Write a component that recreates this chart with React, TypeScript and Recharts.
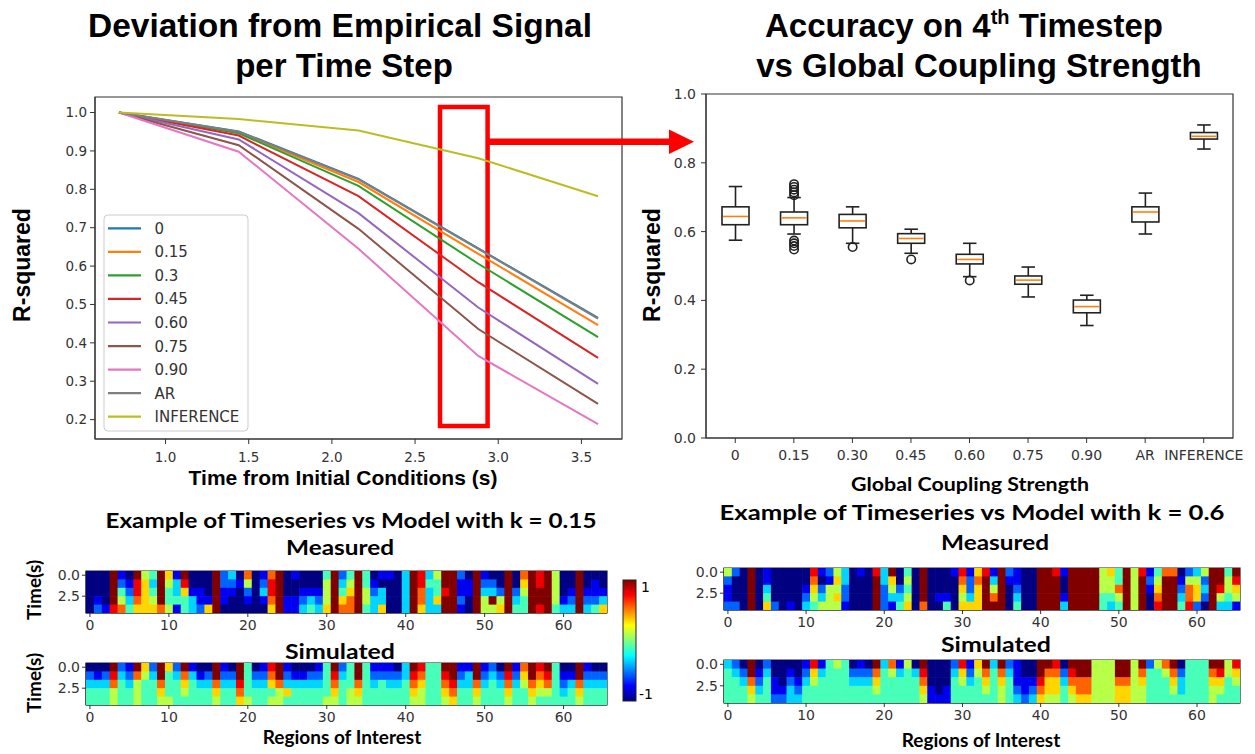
import React from "react";
import { LineChart, Line, XAxis, YAxis, ReferenceArea, BarChart, Bar, ScatterChart, Scatter } from "recharts";

// R-squared vs time from initial conditions, one array per coupling value
const TIME_STEPS = [0.72, 1.44, 2.16, 2.88, 3.6];
const LINE_LABELS = ["0", "0.15", "0.3", "0.45", "0.60", "0.75", "0.90", "AR", "INFERENCE"];
const LINE_COLORS = ["#1f77b4", "#ff7f0e", "#2ca02c", "#d62728", "#9467bd", "#8c564b", "#e377c2", "#7f7f7f", "#bcbd22"];
const R2_K0 = [1.0, 0.951, 0.827, 0.646, 0.465];
const R2_K015 = [1.0, 0.948, 0.819, 0.632, 0.446];
const R2_K030 = [1.0, 0.946, 0.809, 0.606, 0.415];
const R2_K045 = [1.0, 0.94, 0.782, 0.558, 0.361];
const R2_K060 = [1.0, 0.93, 0.738, 0.492, 0.293];
const R2_K075 = [1.0, 0.915, 0.697, 0.436, 0.241];
const R2_K090 = [1.0, 0.898, 0.645, 0.366, 0.188];
const R2_AR = [1.0, 0.95, 0.826, 0.645, 0.463];
const R2_INFERENCE = [1.0, 0.983, 0.953, 0.881, 0.782];
const LINE_VALUES = [R2_K0, R2_K015, R2_K030, R2_K045, R2_K060, R2_K075, R2_K090, R2_AR, R2_INFERENCE];
const LINE_X_TICKS = [1.0, 1.5, 2.0, 2.5, 3.0, 3.5];
const LINE_Y_TICKS = [0.2, 0.3, 0.4, 0.5, 0.6, 0.7, 0.8, 0.9, 1.0];

// accuracy on 4th timestep, box plot stats
const BOX_LABELS = ["0", "0.15", "0.30", "0.45", "0.60", "0.75", "0.90", "AR", "INFERENCE"];
const BOX_LOW = [0.575, 0.593, 0.566, 0.537, 0.469, 0.41, 0.327, 0.593, 0.84];
const BOX_Q1 = [0.62, 0.62, 0.611, 0.566, 0.506, 0.447, 0.364, 0.628, 0.869];
const BOX_MEDIAN = [0.644, 0.64, 0.631, 0.58, 0.519, 0.459, 0.382, 0.657, 0.877];
const BOX_Q3 = [0.672, 0.657, 0.65, 0.594, 0.534, 0.471, 0.401, 0.672, 0.888];
const BOX_HIGH = [0.731, 0.699, 0.672, 0.607, 0.566, 0.497, 0.415, 0.712, 0.91];
const BOX_OUTLIERS = [
  [],
  [0.738, 0.73, 0.722, 0.714, 0.706, 0.574, 0.566, 0.558, 0.548],
  [0.555],
  [0.519],
  [0.458],
  [],
  [],
  [],
  [],
];
const BOX_Y_TICKS = [0, 0.2, 0.4, 0.6, 0.8, 1.0];

// heatmaps: one string per time row, one digit per region (0 = -1 ... 9 = +1)
const MEASURED_K015 = [
  "000910954961900092307017901000492494011039835992091009079895009000",
  "000921863953800092215028900000593594100039844991192209069895009010",
  "000942864943611091102038900111594695230039734891193329259995019111",
  "010953765944431191001017911232596795330039736992095959349995129223",
  "021874666751432690000006911343697794360039633991095569449894339346",
];
const SIMULATED_K015 = [
  "000921962962910091094018910001492494111039844991191209179894009100",
  "212832753943731292294227921122483494222238744892392328269784119222",
  "333743544744643373384336733333474474343347644783373437357674237333",
  "444544544644544464474444564444464564444446544674464446446554346444",
  "444544544554444454465445544444554554444445544564454445445444445444",
];
const MEASURED_K06 = [
  "520901000008125301083904090001816819210099819999564958147702359949",
  "200901000007016300093605090000727939110099909999554959259915529958",
  "100903000016255200092524090000626959020099909999557959169927639856",
  "100904000025356200092335090110536979030099919999445959079937629545",
  "220906201034555100092146070040666999040099939999434959089948209331",
];
const SIMULATED_K06 = [
  "320902000018145401093715090002816939210099809995559959257904449958",
  "432913001026344422274534380003625747310097728995559957445724447856",
  "443724102135444433364444470004534646411186637775557756444634446645",
  "444634113244444444454444461014444545421276646775556655444534445544",
  "444544223344444444444444451114444445432365545665556655444444445444",
];
const HEAT_X_TICKS = [0, 10, 20, 30, 40, 50, 60];
const HEAT_Y_TICKS = [0, 2.5];
const COLORBAR_STOPS = [0, 0.125, 0.25, 0.375, 0.5, 0.625, 0.75, 0.875, 1];

const TITLE_FONT = "'Liberation Sans', Arial, sans-serif";
const LABEL_FONT = "Lato, 'Open Sans', sans-serif";
const TICK_FONT = "'DejaVu Sans', sans-serif";
const AXIS_COLOR = "#333";
const tickStyle = { fontSize: 14, fill: "#333", fontFamily: TICK_FONT };

function jet(t: number) {
  const c = (v: number) => Math.round(255 * Math.max(0, Math.min(1, v)));
  return `rgb(${c(1.5 - Math.abs(4 * t - 3))},${c(1.5 - Math.abs(4 * t - 2))},${c(1.5 - Math.abs(4 * t - 1))})`;
}

function DeviationChart() {
  const data = TIME_STEPS.map((t, i) => {
    const row: Record<string, number> = { t };
    LINE_LABELS.forEach((name, s) => (row[name] = LINE_VALUES[s][i]));
    return row;
  });
  return (
    <LineChart width={640} height={500} data={data} margin={{ top: 97, right: 18, bottom: 31, left: 50 }}>
      <XAxis
        dataKey="t"
        type="number"
        domain={[0.576, 3.744]}
        ticks={LINE_X_TICKS}
        tickFormatter={(v) => Number(v).toFixed(1)}
        allowDataOverflow
        interval={0}
        height={30}
        tick={{ ...tickStyle, fontSize: 13.5 }}
        tickSize={5}
        tickMargin={8}
        stroke={AXIS_COLOR}
      />
      <YAxis
        type="number"
        domain={[0.1495, 1.0405]}
        ticks={LINE_Y_TICKS}
        tickFormatter={(v) => Number(v).toFixed(1)}
        allowDataOverflow
        interval={0}
        width={45}
        tick={{ ...tickStyle, fontSize: 13.5 }}
        tickSize={5}
        tickMargin={3}
        stroke={AXIS_COLOR}
      />
      <ReferenceArea y1={0.1495} y2={1.0405} fill="none" stroke={AXIS_COLOR} strokeWidth={1.2} />
      {LINE_LABELS.map((name, s) => (
        <Line key={name} dataKey={name} stroke={LINE_COLORS[s]} strokeWidth={2} dot={false} isAnimationActive={false} />
      ))}
      {/* highlighted 4th timestep */}
      <ReferenceArea x1={2.65} x2={2.936} y1={0.1834} y2={1.0144} fill="none" stroke="#ff0000" strokeWidth={4.5} />
    </LineChart>
  );
}

function BoxShape(props: any) {
  const { x, y, width, height, payload } = props;
  if (!payload) return null;
  const top = Math.min(y, y + height);
  const h = Math.abs(height);
  const py = (v: number) => top + (h * (payload.high - v)) / (payload.high - payload.low);
  const cx = x + width / 2;
  const cap = width / 4;
  const st = { stroke: "#222", strokeWidth: 1.6 };
  return (
    <g>
      <line x1={cx} x2={cx} y1={py(payload.high)} y2={py(payload.q3)} {...st} />
      <line x1={cx} x2={cx} y1={py(payload.q1)} y2={py(payload.low)} {...st} />
      <line x1={cx - cap} x2={cx + cap} y1={py(payload.high)} y2={py(payload.high)} {...st} />
      <line x1={cx - cap} x2={cx + cap} y1={py(payload.low)} y2={py(payload.low)} {...st} />
      <rect x={x} y={py(payload.q3)} width={width} height={py(payload.q1) - py(payload.q3)} fill="#fff" {...st} />
      <line x1={x + 1} x2={x + width - 1} y1={py(payload.median)} y2={py(payload.median)} stroke="#ff7f0e" strokeWidth={1.6} />
      {payload.outliers.map((v: number, i: number) => (
        <circle key={i} cx={cx} cy={py(v)} r={4.2} fill="none" {...st} />
      ))}
    </g>
  );
}

function AccuracyChart() {
  const data = BOX_LABELS.map((name, i) => ({
    name,
    range: [BOX_LOW[i], BOX_HIGH[i]],
    low: BOX_LOW[i],
    q1: BOX_Q1[i],
    median: BOX_MEDIAN[i],
    q3: BOX_Q3[i],
    high: BOX_HIGH[i],
    outliers: BOX_OUTLIERS[i],
  }));
  return (
    <BarChart width={615} height={440} data={data} margin={{ top: 24, right: 22, bottom: 32, left: 16 }}>
      <XAxis dataKey="name" interval={0} height={40} tick={tickStyle} tickSize={5} tickMargin={7} stroke={AXIS_COLOR} />
      <YAxis
        type="number"
        domain={[0, 1]}
        ticks={BOX_Y_TICKS}
        tickFormatter={(v) => Number(v).toFixed(1)}
        interval={0}
        width={50}
        tick={tickStyle}
        tickSize={5}
        tickMargin={5}
        stroke={AXIS_COLOR}
      />
      <ReferenceArea y1={0} y2={1} fill="none" stroke={AXIS_COLOR} strokeWidth={1.2} />
      <Bar dataKey="range" barSize={27} shape={BoxShape} isAnimationActive={false} />
    </BarChart>
  );
}

function Heatmap({ rows, x0, x1, y0, y1 }: { rows: string[]; x0: number; x1: number; y0: number; y1: number }) {
  const yAxisW = 40;
  const xAxisH = 25;
  const left = x0 - yAxisW - 16;
  const top = y0 - 11;
  const width = x1 - left + 15;
  const height = y1 - top + xAxisH + 2;
  const cols = rows[0].length;
  const cw = (x1 - x0) / cols;
  const ch = (y1 - y0) / rows.length;
  const cells: { x: number; y: number; v: number }[] = [];
  rows.forEach((str, r) => str.split("").forEach((d, c) => cells.push({ x: c, y: r, v: -1 + (2 * Number(d)) / 9 })));
  return (
    <div style={{ position: "absolute", left, top }}>
      <ScatterChart width={width} height={height} margin={{ top: 11, right: 15, bottom: 2, left: 16 }}>
        <XAxis
          type="number"
          dataKey="x"
          domain={[-0.5, cols - 0.5]}
          ticks={HEAT_X_TICKS}
          allowDataOverflow
          interval={0}
          height={xAxisH}
          tick={tickStyle}
          tickSize={4}
          tickMargin={3}
          stroke={AXIS_COLOR}
        />
        <YAxis
          type="number"
          dataKey="y"
          domain={[-0.5, rows.length - 0.5]}
          reversed
          ticks={HEAT_Y_TICKS}
          tickFormatter={(v) => Number(v).toFixed(1)}
          allowDataOverflow
          interval={0}
          width={yAxisW}
          tick={tickStyle}
          tickSize={4}
          tickMargin={2}
          stroke={AXIS_COLOR}
        />
        <Scatter
          data={cells}
          isAnimationActive={false}
          shape={(p: any) => (
            <rect x={p.cx - cw / 2} y={p.cy - ch / 2} width={cw + 0.6} height={ch + 0.6} fill={jet((p.payload.v + 1) / 2)} />
          )}
        />
        <ReferenceArea y1={-0.5} y2={rows.length - 0.5} fill="none" stroke="#222" strokeWidth={1.2} />
      </ScatterChart>
    </div>
  );
}

function Overlay() {
  const title = { fontFamily: TITLE_FONT, fontWeight: 700, fill: "#000", textAnchor: "middle" as const };
  const label = { fontFamily: LABEL_FONT, fontWeight: 700, fill: "#000", textAnchor: "middle" as const };
  return (
    <svg width={1255} height={754} style={{ position: "absolute", left: 0, top: 0, pointerEvents: "none" }}>
      <defs>
        <linearGradient id="jetBar" x1="0" y1="1" x2="0" y2="0">
          {COLORBAR_STOPS.map((t) => (
            <stop key={t} offset={t} stopColor={jet(t)} />
          ))}
        </linearGradient>
      </defs>

      <text x={340} y={37} fontSize={33} textLength={504} lengthAdjust="spacingAndGlyphs" {...title}>
        Deviation from Empirical Signal
      </text>
      <text x={344} y={77} fontSize={33} {...title}>per Time Step</text>
      <text x={964} y={37} fontSize={33} {...title}>
        Accuracy on 4<tspan fontSize={20} dy={-13}>th</tspan>
        <tspan dy={13}> Timestep</tspan>
      </text>
      <text x={979} y={77} fontSize={33} {...title}>vs Global Coupling Strength</text>

      <text transform="translate(30,265) rotate(-90)" fontSize={23} {...title}>R-squared</text>
      <text x={343} y={485} fontSize={21} {...title}>Time from Initial Conditions (s)</text>
      <text transform="translate(660,265) rotate(-90)" fontSize={23} {...title}>R-squared</text>
      <text x={970} y={491} fontSize={18} textLength={238} lengthAdjust="spacingAndGlyphs" {...label}>
        Global Coupling Strength
      </text>

      {/* legend of the line chart */}
      <rect x={104} y={215} width={144} height={216} rx={4} fill="#fff" fillOpacity={0.85} stroke="#ccc" />
      {LINE_LABELS.map((name, i) => (
        <g key={name}>
          <line x1={108} x2={141} y1={228.3 + 23.55 * i} y2={228.3 + 23.55 * i} stroke={LINE_COLORS[i]} strokeWidth={2.2} />
          <text x={154.5} y={233.8 + 23.55 * i} fontSize={15} fontFamily={TICK_FONT} fill="#333">
            {name}
          </text>
        </g>
      ))}

      {/* arrow from highlighted timestep to the box plot */}
      <line x1={489} x2={672} y1={141.7} y2={141.7} stroke="#ff0000" strokeWidth={6.5} />
      <polygon points="694,141.7 669,129.5 669,154" fill="#ff0000" />

      {/* heatmap captions */}
      <text x={351} y={528} fontSize={21} textLength={491} lengthAdjust="spacingAndGlyphs" {...label}>
        Example of Timeseries vs Model with k = 0.15
      </text>
      <text x={340} y={555} fontSize={21} textLength={108} lengthAdjust="spacingAndGlyphs" {...label}>
        Measured
      </text>
      <text x={340} y={659} fontSize={21} textLength={110} lengthAdjust="spacingAndGlyphs" {...label}>
        Simulated
      </text>
      <text x={342} y={744} fontSize={19} {...label}>Regions of Interest</text>
      <text transform="translate(41,590) rotate(-90)" fontSize={19} {...label}>Time(s)</text>
      <text transform="translate(41,683) rotate(-90)" fontSize={19} {...label}>Time(s)</text>

      <text x={972} y={520} fontSize={21} textLength={505} lengthAdjust="spacingAndGlyphs" {...label}>
        Example of Timeseries vs Model with k = 0.6
      </text>
      <text x={995} y={550} fontSize={21} textLength={108} lengthAdjust="spacingAndGlyphs" {...label}>
        Measured
      </text>
      <text x={996} y={652} fontSize={21} textLength={110} lengthAdjust="spacingAndGlyphs" {...label}>
        Simulated
      </text>
      <text x={981} y={747} fontSize={19} {...label}>Regions of Interest</text>

      {/* colorbar */}
      <rect x={623} y={580} width={13} height={121} fill="url(#jetBar)" stroke="#222" strokeWidth={1} />
      <text x={641} y={592} fontSize={14} fontFamily={TICK_FONT} fill="#000">1</text>
      <text x={639} y={699} fontSize={14} fontFamily={TICK_FONT} fill="#000">-1</text>
    </svg>
  );
}

export default function App() {
  return (
    <div style={{ position: "absolute", left: 0, top: 0, width: 1255, height: 754, background: "#fff", overflow: "hidden" }}>
      <div style={{ position: "absolute", left: 0, top: 0 }}>
        <DeviationChart />
      </div>
      <div style={{ position: "absolute", left: 640, top: 70 }}>
        <AccuracyChart />
      </div>
      <Heatmap rows={MEASURED_K015} x0={86} x1={607} y0={571} y1={613} />
      <Heatmap rows={SIMULATED_K015} x0={86} x1={607} y0={663} y1={705} />
      <Heatmap rows={MEASURED_K06} x0={724} x1={1240} y0={568} y1={610} />
      <Heatmap rows={SIMULATED_K06} x0={724} x1={1240} y0={660} y1={703} />
      <Overlay />
    </div>
  );
}
